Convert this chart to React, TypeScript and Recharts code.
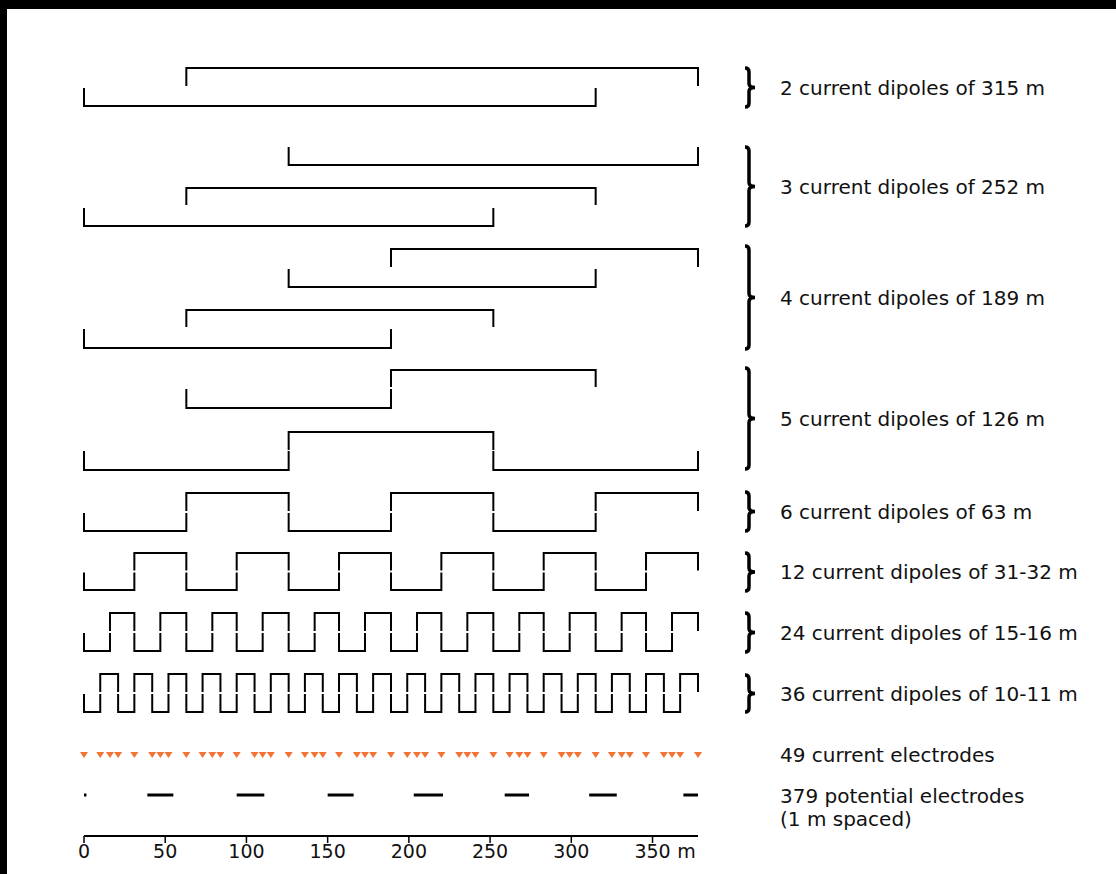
import React from "react";
import {
  ComposedChart,
  Line,
  Scatter,
  XAxis,
  YAxis,
  ReferenceArea,
} from "recharts";

// ---------------- DATA ----------------
const LINE_LENGTH = 378; // m
const AXIS_TICKS = [0, 50, 100, 150, 200, 250, 300, 350];
const UNIT = "m";

// dipoles as [start, end] in m
const dipoles2 = [
  [63, 378],
  [0, 315],
];
const dipoles3 = [
  [126, 378],
  [63, 315],
  [0, 252],
];
const dipoles4 = [
  [189, 378],
  [126, 315],
  [63, 252],
  [0, 189],
];
const dipoles5 = [
  [189, 315],
  [63, 189],
  [126, 252],
  [0, 126],
  [252, 378],
];
// electrode positions for the contiguous dipole chains
const ends6 = [0, 63, 126, 189, 252, 315, 378];
const ends12 = [0, 31, 63, 94, 126, 157, 189, 220, 252, 283, 315, 346, 378];
const ends24 = [
  0, 16, 31, 47, 63, 79, 94, 110, 126, 142, 157, 173, 189, 205, 220, 236, 252,
  268, 283, 299, 315, 331, 346, 362, 378,
];
const ends36 = [
  0, 10, 21, 31, 42, 52, 63, 73, 84, 94, 105, 115, 126, 136, 147, 157, 168, 178,
  189, 199, 210, 220, 231, 241, 252, 262, 273, 283, 294, 304, 315, 325, 336, 346,
  357, 367, 378,
];
const currentElectrodes = [
  0, 10, 16, 21, 31, 42, 47, 52, 63, 73, 79, 84, 94, 105, 110, 115, 126, 136,
  142, 147, 157, 168, 173, 178, 189, 199, 205, 210, 220, 231, 236, 241, 252, 262,
  268, 273, 283, 294, 299, 304, 315, 325, 331, 336, 346, 357, 362, 367, 378,
];
const potentialSegments = [
  [0, 1.5],
  [39, 55],
  [94, 111],
  [150, 166],
  [203, 221],
  [259, 274],
  [311, 328],
  [369, 378],
];

const rowLabels = [
  "2 current dipoles of 315 m",
  "3 current dipoles of 252 m",
  "4 current dipoles of 189 m",
  "5 current dipoles of 126 m",
  "6 current dipoles of 63 m",
  "12 current dipoles of 31-32 m",
  "24 current dipoles of 15-16 m",
  "36 current dipoles of 10-11 m",
];
const electrodeLabel = ["49 current electrodes"];
const potentialLabel = ["379 potential electrodes", "(1 m spaced)"];

// ---------------- LAYOUT (vertical positions, in layout units) ----------------
const Y_DOMAIN = [0, 836];
// [base, tip] of each bracket for the overlapping rows
const BRACKET_LEVELS = [
  [
    [68, 86],
    [106, 88],
  ],
  [
    [165, 147],
    [188, 205],
    [226, 208],
  ],
  [
    [249, 267],
    [287, 269],
    [310, 327],
    [348, 329],
  ],
  [
    [370, 387],
    [408, 389],
    [432, 450],
    [470, 451],
    [470, 451],
  ],
];
// [high, low] levels of the contiguous chains
const WAVE_LEVELS = [
  [493, 531],
  [553, 590],
  [613, 651],
  [674, 712],
];
const BRACE_SPANS = [
  [68, 107],
  [147, 226],
  [246, 349],
  [368, 469],
  [492, 531],
  [553, 591],
  [613, 652],
  [675, 712],
];
const ELECTRODE_Y = 755;
const POTENTIAL_Y = 795;
const POTENTIAL_LABEL_SPAN = [784, 830];

const FONT = "'DejaVu Sans', 'Liberation Sans', Arial, sans-serif";
const ORANGE = "#f27434";

// ---------------- build series ----------------
type Seg = { key: string; data: { x: number; y: number }[] };
const bracketSeries: Seg[] = [];
const bracketRows = [dipoles2, dipoles3, dipoles4, dipoles5];
bracketRows.forEach((row, r) => {
  row.forEach(([a, b], i) => {
    const [base, tip] = BRACKET_LEVELS[r][i];
    bracketSeries.push({
      key: `b${r}-${i}`,
      data: [
        { x: a, y: tip },
        { x: a, y: base },
        { x: b, y: base },
        { x: b, y: tip },
      ],
    });
  });
});
const waveRows = [ends6, ends12, ends24, ends36];
waveRows.forEach((ends, r) => {
  const [hi, lo] = WAVE_LEVELS[r];
  const mid = (hi + lo) / 2;
  for (let i = 0; i < ends.length - 1; i++) {
    const up = i % 2 === 1;
    const base = up ? hi : lo;
    const tip = up ? mid - 1 : mid + 1;
    bracketSeries.push({
      key: `w${r}-${i}`,
      data: [
        { x: ends[i], y: tip },
        { x: ends[i], y: base },
        { x: ends[i + 1], y: base },
        { x: ends[i + 1], y: tip },
      ],
    });
  }
});
const potentialSeries: Seg[] = potentialSegments.map(([a, b], i) => ({
  key: `p${i}`,
  data: [
    { x: a, y: POTENTIAL_Y },
    { x: b, y: POTENTIAL_Y },
  ],
}));
const electrodeData = currentElectrodes.map((x) => ({ x, y: ELECTRODE_Y }));

function bracePath(x: number, y1: number, y2: number) {
  const ym = (y1 + y2) / 2;
  const r = 4;
  return `M${x - 4},${y1} Q${x},${y1} ${x},${y1 + r} L${x},${ym - r} Q${x},${ym} ${x + 6},${ym} Q${x},${ym} ${x},${ym + r} L${x},${y2 - r} Q${x},${y2} ${x - 4},${y2}`;
}

const makeAnnotation =
  (lines: string[], brace: boolean) => (props: any) => {
    const { x, y, width, height } = props;
    const right = x + width;
    const cy = y + height / 2;
    const lh = 23;
    const start = cy - ((lines.length - 1) * lh) / 2;
    return (
      <g>
        {brace && (
          <path
            d={bracePath(right + 51, y, y + height)}
            stroke="#000"
            strokeWidth={3.5}
            fill="none"
          />
        )}
        {lines.map((t, i) => (
          <text
            key={i}
            x={right + 82}
            y={start + i * lh}
            dy="0.36em"
            fontFamily={FONT}
            fontSize={20}
            fill="#111"
          >
            {t}
          </text>
        ))}
      </g>
    );
  };

const Triangle = (props: any) => {
  const { cx, cy } = props;
  return (
    <path
      d={`M${cx - 4},${cy - 3} L${cx + 4},${cy - 3} L${cx},${cy + 3} Z`}
      fill={ORANGE}
    />
  );
};

const AxisTick = (props: any) => {
  const { x, y, payload } = props;
  const last = payload.value === AXIS_TICKS[AXIS_TICKS.length - 1];
  return (
    <g>
      <text
        x={x}
        y={y}
        dy="0.71em"
        textAnchor="middle"
        fontFamily={FONT}
        fontSize={19}
        fill="#111"
      >
        {payload.value}
      </text>
      {last && (
        <text
          x={x + 34}
          y={y}
          dy="0.71em"
          textAnchor="middle"
          fontFamily={FONT}
          fontSize={19}
          fill="#111"
        >
          {UNIT}
        </text>
      )}
    </g>
  );
};

export default function App() {
  return (
    <div
      style={{
        position: "absolute",
        left: 0,
        top: 0,
        width: 1116,
        height: 874,
        background: "#fff",
        overflow: "hidden",
      }}
    >
      <ComposedChart
        width={1116}
        height={874}
        margin={{ top: 0, right: 418, bottom: 8, left: 84 }}
      >
        <XAxis
          type="number"
          dataKey="x"
          domain={[0, LINE_LENGTH]}
          ticks={AXIS_TICKS}
          interval={0}
          height={30}
          axisLine={{ stroke: "#000", strokeWidth: 2 }}
          tickLine={{ stroke: "#000", strokeWidth: 1.5 }}
          tickSize={7}
          tickMargin={2}
          tick={<AxisTick />}
        />
        <YAxis
          type="number"
          dataKey="y"
          domain={Y_DOMAIN}
          reversed
          hide
          width={0}
        />
        {bracketSeries.map((s) => (
          <Line
            key={s.key}
            data={s.data}
            dataKey="y"
            type="linear"
            stroke="#000"
            strokeWidth={2}
            dot={false}
            activeDot={false}
            isAnimationActive={false}
          />
        ))}
        {potentialSeries.map((s) => (
          <Line
            key={s.key}
            data={s.data}
            dataKey="y"
            type="linear"
            stroke="#000"
            strokeWidth={3}
            dot={false}
            activeDot={false}
            isAnimationActive={false}
          />
        ))}
        <Scatter
          data={electrodeData}
          dataKey="y"
          shape={<Triangle />}
          isAnimationActive={false}
        />
        {BRACE_SPANS.map(([a, b], i) => (
          <ReferenceArea
            key={`br${i}`}
            x1={0}
            x2={LINE_LENGTH}
            y1={a}
            y2={b}
            shape={makeAnnotation([rowLabels[i]], true)}
          />
        ))}
        <ReferenceArea
          x1={0}
          x2={LINE_LENGTH}
          y1={ELECTRODE_Y - 5}
          y2={ELECTRODE_Y + 5}
          shape={makeAnnotation(electrodeLabel, false)}
        />
        <ReferenceArea
          x1={0}
          x2={LINE_LENGTH}
          y1={POTENTIAL_LABEL_SPAN[0]}
          y2={POTENTIAL_LABEL_SPAN[1]}
          shape={makeAnnotation(potentialLabel, false)}
        />
      </ComposedChart>
      <div
        style={{
          position: "absolute",
          left: 0,
          top: 0,
          width: 1116,
          height: 9,
          background: "#000",
        }}
      />
      <div
        style={{
          position: "absolute",
          left: 0,
          top: 0,
          width: 7,
          height: 874,
          background: "#000",
        }}
      />
    </div>
  );
}
